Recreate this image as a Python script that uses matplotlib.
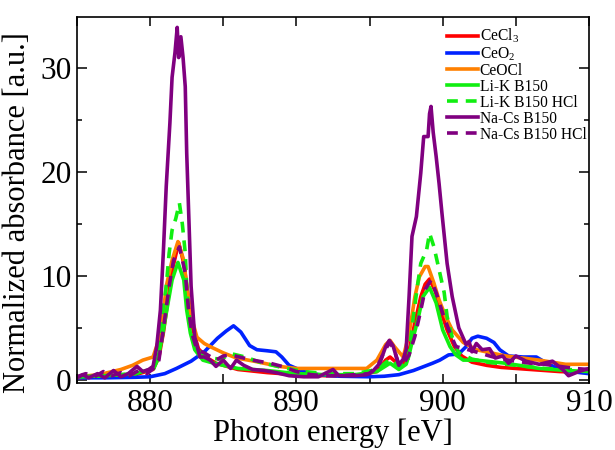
import matplotlib
matplotlib.use("Agg")
import matplotlib.pyplot as plt
from matplotlib.ticker import MultipleLocator

plt.rcParams['font.family'] = ['Liberation Serif', 'DejaVu Serif']
plt.rcParams['mathtext.default'] = 'regular'

# ---- data ----
labels = ['CeCl$_3$', 'CeO$_2$', 'CeOCl', 'Li-K B150', 'Li-K B150 HCl',
          'Na-Cs B150', 'Na-Cs B150 HCl']

e_cecl3 = [875, 877, 879, 880.2, 880.6, 880.9, 881.2, 881.5, 881.95, 882.3, 882.6, 882.9,
           883.3, 883.8, 884.5, 886, 888, 890, 892, 894, 895.5, 896.1, 896.4, 896.8, 897.3,
           897.7, 898.1, 898.5, 898.8, 899.1, 899.5, 899.9, 900.3, 900.8, 901.3, 902, 903,
           904, 906, 908, 910]
a_cecl3 = [0.2, 0.3, 0.5, 1.0, 2.2, 4.5, 7.5, 10.5, 13.2, 11.2, 8.0, 5.0,
           3.0, 2.2, 1.6, 1.0, 0.7, 0.5, 0.4, 0.4, 0.8, 1.9, 2.2, 1.7, 1.4,
           2.8, 5.5, 8.0, 9.2, 9.7, 8.5, 6.5, 4.8, 3.2, 2.3, 1.7, 1.4,
           1.2, 1.0, 0.8, 0.7]

e_ceo2 = [875, 877, 879, 880, 881, 881.8, 882.8, 883.7, 884.6, 885.2, 885.7, 886.2, 886.8,
          887.3, 888.0, 888.6, 889.0, 889.5, 890.5, 891.5, 893, 895, 896, 897, 898, 899.3,
          899.8, 900.4, 901.1, 901.6, 902.0, 902.4, 903.0, 903.5, 903.9, 904.5, 905.5, 906.4,
          907.0, 907.7, 908.8, 910]
a_ceo2 = [0.2, 0.2, 0.25, 0.3, 0.6, 1.1, 1.8, 2.7, 4.0, 4.7, 5.2, 4.6, 3.3,
          2.9, 2.8, 2.7, 2.2, 1.4, 0.8, 0.5, 0.35, 0.3, 0.35, 0.5, 0.9, 1.6,
          1.9, 2.4, 2.5, 3.2, 4.0, 4.2, 4.0, 3.6, 2.9, 2.3, 2.2, 2.2,
          1.7, 1.2, 0.8, 0.6]

e_ceocl = [875, 876.5, 878, 878.8, 879.5, 880.2, 880.6, 880.9, 881.1, 881.5, 881.9, 882.3,
           882.5, 882.75, 883.2, 883.7, 884.1, 885.0, 885.9, 887.1, 888.8, 890, 892, 894.8,
           895.5, 896.1, 896.4, 896.7, 897.3, 897.7, 898.1, 898.4, 898.8, 899.0, 899.4,
           899.75, 900.2, 900.65, 901.4, 902.3, 904.3, 906.6, 908.4, 910]
a_ceocl = [0.3, 0.5, 1.0, 1.4, 1.9, 2.2, 3.9, 6.4, 9.0, 11.5, 13.3, 11.5,
           9.0, 6.4, 4.1, 3.5, 3.2, 2.6, 2.1, 1.8, 1.3, 1.1, 1.1, 1.1,
           1.9, 3.4, 3.8, 3.2, 2.2, 4.4, 8.0, 9.9, 10.9, 10.9, 9.3,
           7.7, 6.1, 4.8, 3.6, 2.9, 2.3, 1.9, 1.5, 1.5]

e_lik = [875, 877, 879, 880.25, 880.5, 880.8, 881.1, 881.5, 881.9, 882.3, 882.5, 882.75,
         883.05, 883.6, 884.1, 885, 886, 888, 890, 892, 894, 895.5, 896.4, 897, 897.5,
         897.7, 897.9, 898.3, 898.65, 899.1, 899.55, 900, 900.5, 900.9, 901.4, 902.3,
         904.3, 906.6, 908.5, 910]
a_lik = [0.3, 0.4, 0.6, 1.1, 1.9, 3.9, 6.4, 9.6, 11.3, 9.6, 6.7, 4.5,
         2.9, 1.9, 1.7, 1.4, 1.1, 0.9, 0.6, 0.5, 0.5, 0.8, 1.6, 1.0, 1.5,
         2.4, 3.6, 5.8, 8.0, 8.9, 7.4, 4.8, 3.2, 2.4, 1.9, 1.9,
         1.6, 1.1, 0.9, 0.8]

e_lik_hcl = [875, 877, 879, 880.2, 880.6, 880.8, 881.1, 881.3, 881.5, 881.75, 882.0, 882.2,
             882.4, 882.5, 882.65, 882.9, 883.4, 884.0, 884.8, 885.6, 886.5, 887.5, 889,
             890.5, 892, 894, 895.5, 896.4, 897.0, 897.6, 897.8, 898.05, 898.3, 898.5, 898.9,
             899.1, 899.4, 899.75, 900.1, 900.3, 900.65, 901.1, 902, 903, 905, 907, 910]
a_lik_hcl = [0.3, 0.4, 0.6, 1.2, 3.2, 5.8, 9.0, 12.2, 14.4, 15.5, 17.0, 15.0,
             12.2, 9.0, 6.4, 3.9, 2.6, 2.1, 2.0, 2.5, 2.2, 1.7, 1.2,
             0.8, 0.6, 0.6, 1.0, 2.0, 1.3, 1.6, 3.8, 6.7, 9.3, 11.2, 12.5,
             14.1, 12.8, 10.6, 8.4, 6.1, 4.1, 2.6, 2.0, 1.7, 1.4, 1.1, 0.9]

e_nacs = [875, 875.4, 875.8, 876.4, 876.9, 877.5, 878.0, 878.5, 879.1, 879.5, 879.9, 880.2,
          880.45, 880.7, 880.9, 881.1, 881.35, 881.5, 881.7, 881.85, 881.95, 882.1, 882.25,
          882.4, 882.5, 882.65, 882.8, 883.05, 883.4, 883.7, 884.1, 884.5, 885.0, 885.5,
          885.9, 886.4, 887.0, 887.8, 888.6, 889.5, 890.5, 891.5, 892.5, 892.9, 894.0,
          894.8, 895.2, 895.7, 896.1, 896.35, 896.6, 897.0, 897.3, 897.5, 897.7, 897.9,
          898.2, 898.5, 898.7, 899.0, 899.1, 899.2, 899.35, 899.55, 899.75, 899.95, 900.3,
          900.65, 901.1, 901.6, 901.8, 902.0, 902.3, 902.7, 903.2, 903.6, 904.1, 904.5,
          905.0, 905.7, 906.6, 907.5, 908.2, 908.6, 909.3, 910]
a_nacs = [0.2, 0.5, 0.2, 0.6, 0.2, 0.9, 0.3, 0.6, 1.3, 0.8, 1.0, 1.3,
          3.2, 6.7, 12.2, 18.6, 24.7, 29.1, 31.5, 33.9, 31.0, 33.0, 31.0,
          28.2, 21.8, 15.4, 9.0, 4.1, 2.2, 2.2, 1.9, 1.3, 1.9, 1.1,
          1.9, 1.4, 1.0, 0.9, 0.7, 0.4, 0.3, 0.3, 1.0, 0.4, 0.4,
          0.5, 0.8, 1.6, 3.2, 3.8, 3.3, 1.4, 2.0, 2.9, 8.0, 13.8,
          15.7, 19.9, 23.4, 23.4, 25.6, 26.3, 23.8, 21.5, 18.9, 16.0, 11.2,
          8.0, 5.0, 3.4, 3.7, 2.7, 3.5, 2.9, 3.0, 2.1, 2.3, 1.6,
          2.3, 1.8, 1.5, 1.8, 1.0, 0.4, 0.8, 1.1]

e_nacs_hcl = [875, 875.6, 876.2, 876.8, 877.4, 878.0, 878.6, 879.2, 879.8, 880.3, 880.6,
              880.8, 881.05, 881.3, 881.6, 882.0, 882.4, 882.6, 882.85, 883.2, 883.7, 884.5,
              885.0, 885.5, 886.1, 887.0, 888.2, 889.0, 890.0, 891, 892, 893, 894, 895,
              895.6, 896.1, 896.4, 896.7, 897.0, 897.3, 897.7, 898.1, 898.5, 898.8, 899.2,
              899.55, 900.0, 900.5, 900.9, 901.5, 902.0, 902.5, 903.2, 904, 905, 906, 907,
              908, 909, 910]
a_nacs_hcl = [0.3, 0.6, 0.3, 0.8, 0.4, 0.7, 0.4, 0.9, 0.6, 1.2, 1.9,
              3.9, 6.4, 9.0, 11.5, 12.8, 10.3, 7.1, 4.5, 2.9, 2.6, 1.9,
              2.3, 2.4, 2.2, 1.9, 1.6, 1.3, 0.8, 0.5, 0.4, 0.4, 0.5, 0.6,
              1.5, 3.0, 3.6, 2.8, 1.5, 1.5, 2.4, 4.2, 6.7, 8.7, 9.6,
              8.4, 6.4, 4.5, 3.2, 3.0, 2.8, 2.6, 2.3, 2.0, 1.8, 1.6, 1.5,
              1.3, 1.1, 1.0]

energies = [e_cecl3, e_ceo2, e_ceocl, e_lik, e_lik_hcl, e_nacs, e_nacs_hcl]
absorbs = [a_cecl3, a_ceo2, a_ceocl, a_lik, a_lik_hcl, a_nacs, a_nacs_hcl]
colors = ['#ff0000', '#0022ff', '#ff8000', '#11ee11', '#11ee11', '#800080', '#800080']
dashed = [False, False, False, False, True, False, True]

fig = plt.figure(figsize=(6.15, 4.5), dpi=100)
ax = fig.add_axes([77 / 615, 1 - 383 / 450, 512 / 615, 366 / 450])

for e, a, c, d, lab in zip(energies, absorbs, colors, dashed, labels):
    if d:
        ax.plot(e, a, color=c, lw=2.6, label=lab, dashes=(3, 2.2))
    else:
        ax.plot(e, a, color=c, lw=2.6, label=lab)

ax.set_xlim(875, 910)
ax.set_ylim(-0.3, 34.9)
ax.xaxis.set_major_locator(MultipleLocator(10))
ax.xaxis.set_minor_locator(MultipleLocator(5))
ax.yaxis.set_major_locator(MultipleLocator(10))
ax.yaxis.set_minor_locator(MultipleLocator(5))
ax.tick_params(which='both', direction='in', top=True, right=True, width=1.1)
ax.tick_params(axis='x', which='both', length=6.5)
ax.tick_params(axis='y', which='major', length=7.5)
ax.tick_params(axis='y', which='minor', length=3.8)
ax.tick_params(axis='both', which='major', labelsize=22.5, pad=4)
for s in ax.spines.values():
    s.set_linewidth(1.2)

ax.set_xlabel('Photon energy [eV]', fontsize=22, labelpad=1)
ax.set_ylabel('Normalized absorbance [a.u.]', fontsize=22)
ax.yaxis.set_label_coords(-0.088, 0.465)

leg = ax.legend(loc='upper left', bbox_to_anchor=(447 / 615, 1 - 27 / 450),
                bbox_transform=fig.transFigure, frameon=False, fontsize=11.2,
                handlelength=2.0, handletextpad=0.1, labelspacing=0.0,
                borderpad=0, borderaxespad=0)

fig.savefig('out.png', dpi=100)
